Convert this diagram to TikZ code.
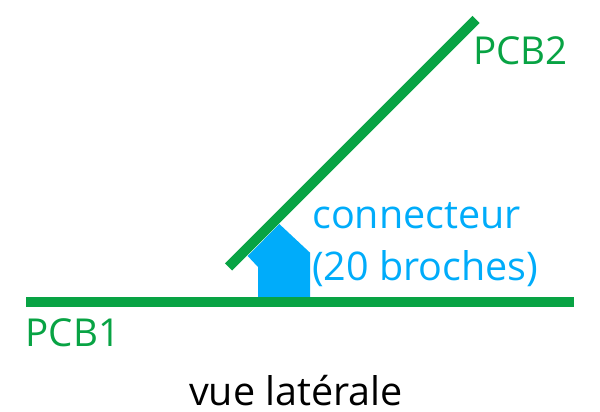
\documentclass[tikz,border=0pt]{standalone}
\usepackage{fontspec}
\setmainfont{Open Sans}
\definecolor{pcbgreen}{RGB}{8,163,68}
\definecolor{connblue}{RGB}{0,172,250}
\tikzstyle{board}=[draw=pcbgreen, line width=10pt]
\tikzstyle{pcblabel}=[text=pcbgreen, font=\fontsize{38.5pt}{44pt}\selectfont, inner sep=0pt]
\tikzstyle{connlabel}=[text=connblue, font=\fontsize{39.5pt}{44pt}\selectfont, inner sep=0pt]

\begin{document}
\begin{tikzpicture}[x=1pt,y=-1pt]
      \useasboundingbox (0, 0) rectangle (600, 412);

      \coordinate (pcb1_left)  at (26, 301.5);
      \coordinate (pcb1_right) at (574, 301.5);
      \coordinate (pcb2_low)   at (228.5, 267);
      \coordinate (pcb2_high)  at (476, 19.5);

      \fill[connblue] (258, 297) -- (258, 267) -- (247.7, 256) -- (279.3, 224)
                      -- (310, 252.7) -- (310, 297) -- cycle;

      \draw[board] (pcb1_left) -- (pcb1_right);
      \draw[board] (pcb2_low) -- (pcb2_high);

      \node[pcblabel, anchor=base west] (pcb2) at (473, 65) {PCB2};
      \node[pcblabel, anchor=base west] (pcb1) at (25.5, 346.5) {PCB1};
      \node[connlabel, anchor=base west] (conn) at (312, 228.5) {connecteur};
      \node[connlabel, anchor=base west] (pins) at (312, 280.5) {(20 broches)};
      \node[anchor=base, inner sep=0pt, font=\fontsize{39.5pt}{44pt}\selectfont] (view) at (296, 405) {vue latérale};
    \end{tikzpicture}
\end{document}
